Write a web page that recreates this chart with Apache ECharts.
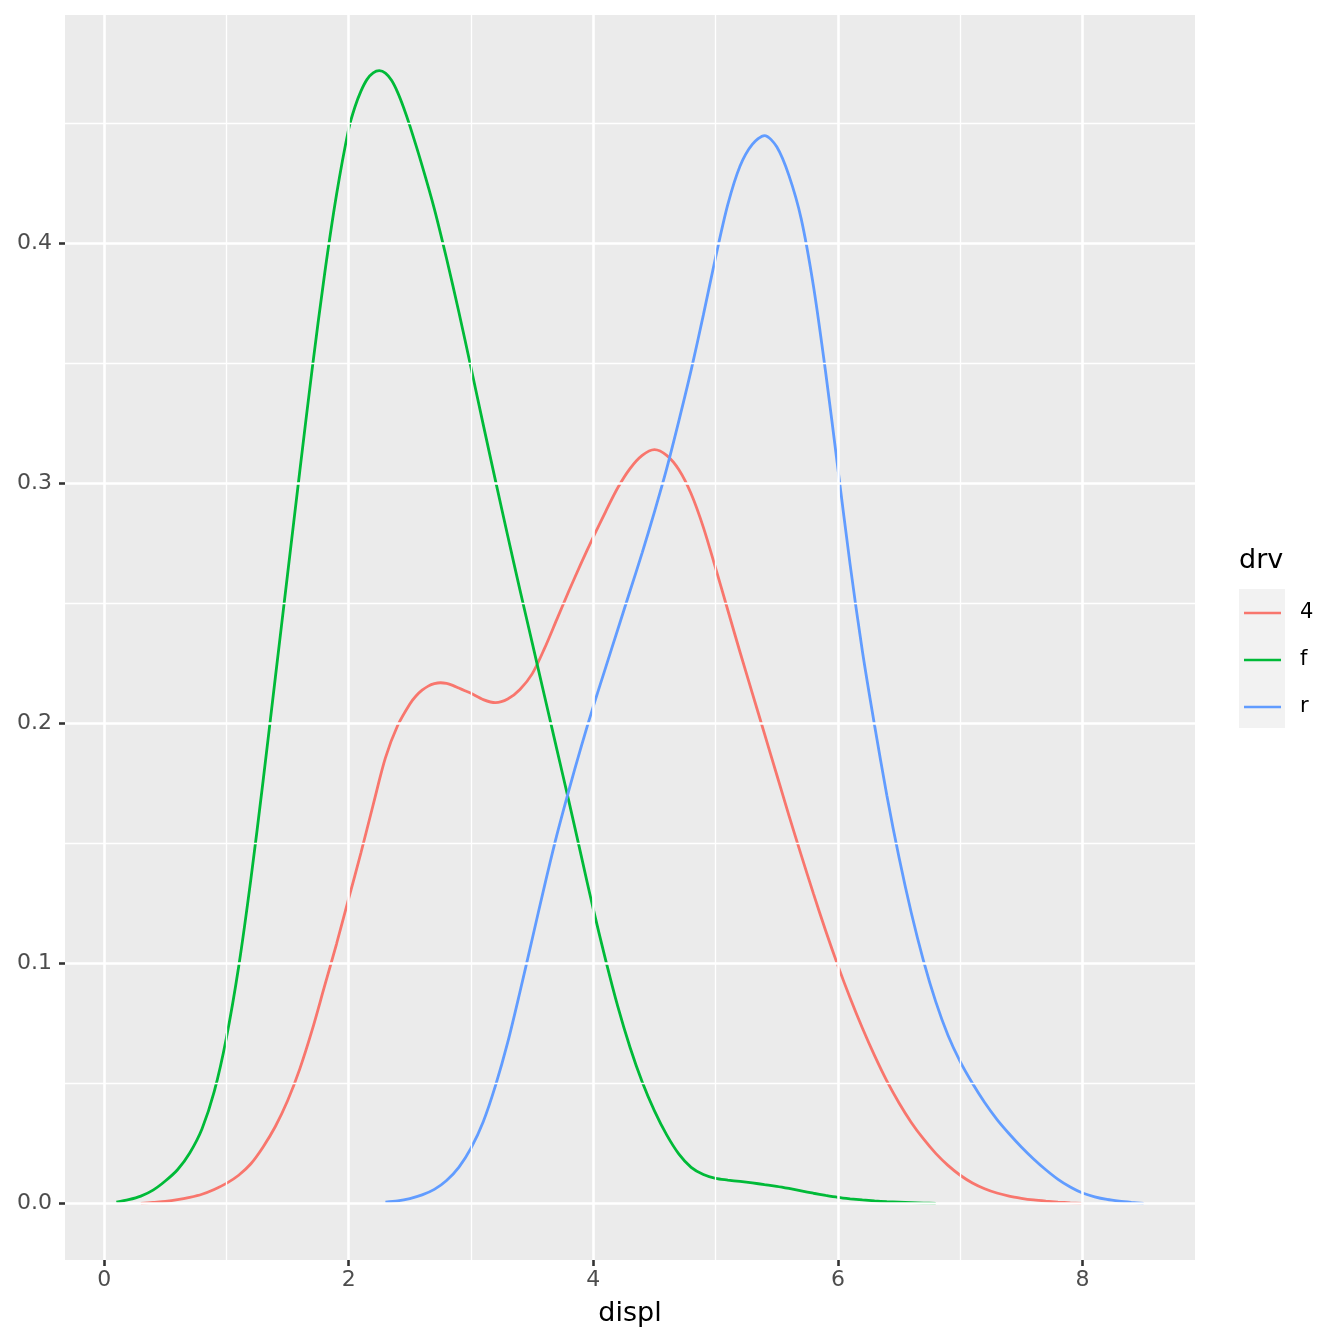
<!DOCTYPE html>
<html>
<head>
<meta charset="utf-8">
<script src="https://cdn.jsdelivr.net/npm/echarts@6/dist/echarts.min.js"></script>
<style>
html, body { margin: 0; padding: 0; background: #fff; }
#chart { width: 1344px; height: 1344px; }
</style>
</head>
<body>
<div id="chart"></div>
<script>
// density of displ by drv
var groups = ['4', 'f', 'r'];
var colors = ['#F8766D', '#00BA38', '#619CFF'];

var x4 = [0.3, 0.4, 0.5, 0.6, 0.7, 0.8, 0.9, 1.0, 1.1, 1.2, 1.3, 1.4, 1.5, 1.6, 1.7, 1.8, 1.9, 2.0, 2.1, 2.2, 2.3, 2.4, 2.5, 2.55, 2.6, 2.65, 2.7, 2.75, 2.8, 2.85, 2.9, 2.95, 3.0, 3.1, 3.2, 3.3, 3.4, 3.5, 3.6, 3.7, 3.8, 3.9, 4.0, 4.1, 4.2, 4.3, 4.4, 4.5, 4.6, 4.7, 4.8, 4.9, 5.0, 5.1, 5.2, 5.3, 5.4, 5.5, 5.6, 5.7, 5.8, 5.9, 6.0, 6.1, 6.2, 6.3, 6.4, 6.5, 6.6, 6.7, 6.8, 6.9, 7.0, 7.1, 7.2, 7.3, 7.4, 7.5, 7.6, 7.7, 7.8, 7.9, 8.0];
var y4 = [0.0, 0.0004, 0.0008, 0.0015, 0.0025, 0.0038, 0.0058, 0.0083, 0.0117, 0.0165, 0.0235, 0.032, 0.0427, 0.056, 0.072, 0.090, 0.108, 0.127, 0.146, 0.166, 0.1855, 0.1990, 0.2080, 0.2113, 0.2137, 0.2154, 0.2164, 0.2168, 0.2165, 0.2157, 0.2146, 0.2135, 0.2124, 0.2098, 0.2085, 0.2100, 0.2140, 0.2205, 0.2310, 0.2430, 0.2550, 0.2665, 0.2775, 0.2880, 0.2980, 0.3060, 0.3115, 0.3139, 0.3115, 0.3055, 0.2955, 0.2815, 0.2645, 0.2470, 0.2295, 0.2125, 0.1955, 0.1785, 0.1615, 0.1450, 0.1290, 0.1135, 0.0990, 0.0855, 0.0730, 0.0615, 0.0510, 0.0418, 0.0337, 0.0268, 0.0208, 0.0158, 0.0117, 0.0085, 0.0061, 0.0043, 0.0030, 0.0021, 0.0014, 0.0009, 0.0005, 0.0002, 0.0];

var xf = [0.1, 0.2, 0.3, 0.4, 0.5, 0.6, 0.7, 0.8, 0.9, 1.0, 1.1, 1.2, 1.3, 1.4, 1.5, 1.6, 1.7, 1.8, 1.9, 2.0, 2.05, 2.1, 2.15, 2.2, 2.25, 2.3, 2.35, 2.4, 2.45, 2.5, 2.6, 2.7, 2.8, 2.9, 3.0, 3.1, 3.2, 3.3, 3.4, 3.5, 3.6, 3.7, 3.8, 3.9, 4.0, 4.1, 4.2, 4.3, 4.4, 4.5, 4.6, 4.7, 4.8, 4.9, 5.0, 5.1, 5.2, 5.3, 5.4, 5.5, 5.6, 5.7, 5.8, 5.9, 6.0, 6.1, 6.2, 6.3, 6.4, 6.5, 6.6, 6.7, 6.8];
var yf = [0.0005, 0.0015, 0.0030, 0.0055, 0.0093, 0.0140, 0.0210, 0.0310, 0.0465, 0.0690, 0.0985, 0.1350, 0.1760, 0.2190, 0.2620, 0.3050, 0.3470, 0.3860, 0.4200, 0.4475, 0.4565, 0.4632, 0.4681, 0.4708, 0.4717, 0.4707, 0.4677, 0.4627, 0.4562, 0.4487, 0.4322, 0.4142, 0.3935, 0.3713, 0.3480, 0.3243, 0.3010, 0.2780, 0.2555, 0.2335, 0.2115, 0.1895, 0.1675, 0.1450, 0.1225, 0.1015, 0.0820, 0.0650, 0.0505, 0.0385, 0.0285, 0.0205, 0.0150, 0.0120, 0.0104, 0.0097, 0.0091, 0.0085, 0.0078, 0.0071, 0.0062, 0.0052, 0.0042, 0.0033, 0.0025, 0.0019, 0.0014, 0.0010, 0.0007, 0.0005, 0.0003, 0.0001, 0.0];

var xr = [2.3, 2.4, 2.5, 2.6, 2.7, 2.8, 2.9, 3.0, 3.1, 3.2, 3.3, 3.4, 3.5, 3.6, 3.7, 3.8, 3.9, 4.0, 4.1, 4.2, 4.3, 4.4, 4.5, 4.6, 4.7, 4.8, 4.9, 5.0, 5.1, 5.2, 5.3, 5.4, 5.5, 5.6, 5.7, 5.8, 5.9, 6.0, 6.1, 6.2, 6.3, 6.4, 6.5, 6.6, 6.7, 6.8, 6.9, 7.0, 7.1, 7.2, 7.3, 7.4, 7.5, 7.6, 7.7, 7.8, 7.9, 8.0, 8.1, 8.2, 8.3, 8.4, 8.5];
var yr = [0.0005, 0.0010, 0.0020, 0.0035, 0.0058, 0.0095, 0.0150, 0.0230, 0.0340, 0.0490, 0.0670, 0.0880, 0.1100, 0.1320, 0.1530, 0.1720, 0.1900, 0.2070, 0.2230, 0.2390, 0.2550, 0.2710, 0.2880, 0.3060, 0.3260, 0.3470, 0.3700, 0.3940, 0.4160, 0.4320, 0.4410, 0.4447, 0.4400, 0.4280, 0.4100, 0.3820, 0.3460, 0.3060, 0.2660, 0.2300, 0.1990, 0.1700, 0.1440, 0.1210, 0.1010, 0.0840, 0.0700, 0.0590, 0.0500, 0.0420, 0.0350, 0.0290, 0.0235, 0.0185, 0.0140, 0.0100, 0.0068, 0.0043, 0.0027, 0.0016, 0.0009, 0.0004, 0.0];

var xTicks = [0, 2, 4, 6, 8];
var xMinor = [1, 3, 5, 7];
var yTicks = [0, 0.1, 0.2, 0.3, 0.4];
var yMinor = [0.05, 0.15, 0.25, 0.35, 0.45];

function pairs(xs, ys) {
  var out = [];
  for (var i = 0; i < xs.length; i++) out.push([xs[i], ys[i]]);
  return out;
}

var gridLines = [];
xMinor.forEach(function (v) { gridLines.push({xAxis: v, lineStyle: {width: 1.3}}); });
yMinor.forEach(function (v) { gridLines.push({yAxis: v, lineStyle: {width: 1.3}}); });
xTicks.forEach(function (v) { gridLines.push({xAxis: v, lineStyle: {width: 2.6}}); });
yTicks.forEach(function (v) { gridLines.push({yAxis: v, lineStyle: {width: 2.6}}); });

var series = [{
  name: 'grid',
  type: 'line',
  data: [],
  silent: true,
  z: 1,
  markLine: {
    silent: true,
    symbol: 'none',
    animation: false,
    label: {show: false},
    lineStyle: {color: '#FFFFFF', type: 'solid'},
    emphasis: {disabled: true},
    data: gridLines
  }
}];
var xsAll = [x4, xf, xr], ysAll = [y4, yf, yr];
groups.forEach(function (g, i) {
  series.push({
    name: g,
    type: 'line',
    data: pairs(xsAll[i], ysAll[i]),
    smooth: 0.3,
    showSymbol: false,
    symbol: 'none',
    z: 3,
    lineStyle: {color: colors[i], width: 2.8},
    itemStyle: {color: colors[i]},
    emphasis: {disabled: true}
  });
});

var labelFont = 'DejaVu Sans';
var option = {
  animation: false,
  textStyle: {fontFamily: labelFont},
  grid: {
    left: 65, top: 15, width: 1130, height: 1245,
    show: true, backgroundColor: '#EBEBEB', borderWidth: 0,
    containLabel: false
  },
  xAxis: {
    type: 'value',
    min: -0.32, max: 8.92,
    name: 'displ',
    nameLocation: 'middle',
    nameGap: 40,
    nameTextStyle: {fontSize: 27, color: '#000000', fontFamily: labelFont},
    axisLine: {show: false, onZero: false},
    axisTick: {show: true, length: 6, customValues: xTicks, lineStyle: {color: '#333333', width: 2.6}},
    axisLabel: {customValues: xTicks, fontSize: 22, color: '#4D4D4D', margin: 9, fontFamily: labelFont},
    splitLine: {show: false}
  },
  yAxis: {
    type: 'value',
    min: -0.0236, max: 0.4949,
    axisLine: {show: false, onZero: false},
    axisTick: {show: true, length: 6, customValues: yTicks, lineStyle: {color: '#333333', width: 2.6}},
    axisLabel: {
      customValues: yTicks, fontSize: 22, color: '#4D4D4D', margin: 13, fontFamily: labelFont,
      formatter: function (v) { return v.toFixed(1); }
    },
    splitLine: {show: false}
  },
  legend: {
    data: groups,
    orient: 'vertical',
    left: 1244, top: 590,
    padding: 0,
    itemGap: 1,
    icon: 'rect',
    itemWidth: 37,
    itemHeight: 2.6,
    selectedMode: false,
    textStyle: {fontSize: 21, color: '#000000', lineHeight: 46, padding: [0, 0, 0, 14], fontFamily: labelFont}
  },
  graphic: [
    {type: 'rect', left: 1239, top: 589, z: -1, shape: {width: 46, height: 139}, style: {fill: '#F2F2F2'}},
    {type: 'text', left: 1239, top: 547, style: {text: 'drv', fontSize: 27, fill: '#000000', fontFamily: labelFont}}
  ],
  series: series
};

var chart = echarts.init(document.getElementById('chart'));
chart.setOption(option);
</script>
</body>
</html>
